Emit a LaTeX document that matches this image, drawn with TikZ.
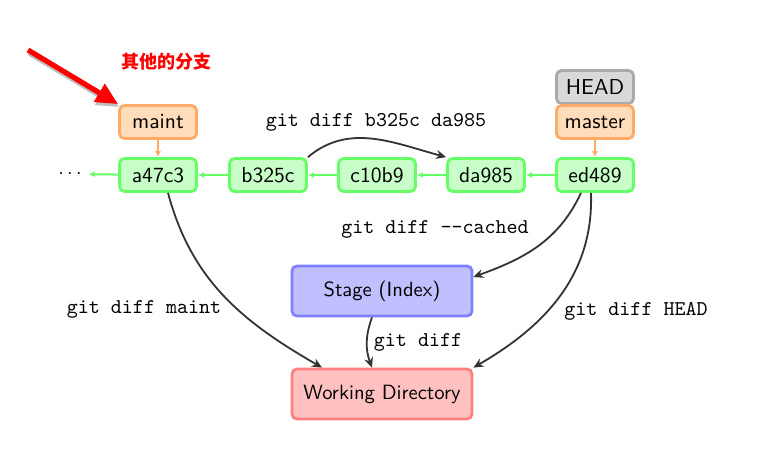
\documentclass[tikz,border=0pt]{standalone}
\usepackage{fontspec}
\newfontfamily\cjk{Noto Sans CJK SC}
\usetikzlibrary{arrows.meta,shapes}
\definecolor{commitline}{HTML}{66FF66}
\definecolor{commitfill}{HTML}{C8FFC8}
\definecolor{branchline}{HTML}{FFAA66}
\definecolor{branchfill}{HTML}{FFDDBB}
\definecolor{headline}{HTML}{AAAAAA}
\definecolor{headfill}{HTML}{D9D9D9}
\definecolor{stageline}{HTML}{8080FF}
\definecolor{stagefill}{HTML}{C0C0FF}
\definecolor{workline}{HTML}{FF8080}
\definecolor{workfill}{HTML}{FFC0C0}
\definecolor{diffline}{HTML}{333333}
\tikzset{
  box/.style={line width=1.4pt, rounded corners=2.5pt, font=\sffamily\fontsize{10.8}{13}\selectfont, inner sep=2pt},
  commit/.style={box, draw=commitline, fill=commitfill, minimum width=38.5pt, minimum height=16.5pt},
  branch/.style={box, draw=branchline, fill=branchfill, minimum width=38.5pt, minimum height=16.5pt},
  area/.style={box, font=\sffamily\fontsize{10.3}{12}\selectfont, minimum width=90pt, minimum height=25pt},
  parent/.style={-{Latex[length=3pt,width=3pt]}, commitline, line width=1pt},
  points/.style={-{Latex[length=3pt,width=3pt]}, branchline, line width=0.8pt},
  diff/.style={-{Stealth[length=5pt,width=4.5pt]}, diffline, line width=0.9pt},
  cmd/.style={font=\ttfamily\fontsize{10.5}{12}\selectfont}
}
\begin{document}
\begin{tikzpicture}[x=0.5pt, y=-0.5pt]
                \useasboundingbox (0,0) rectangle (771,470);
                % commits
                \node[commit] (a47c3) at (158,175) {a47c3};
                \node[commit] (b325c) at (268,175) {b325c};
                \node[commit] (c10b9) at (377,175) {c10b9};
                \node[commit] (da985) at (486,175) {da985};
                \node[commit] (ed489) at (595,175) {ed489};
                \node (dots) at (70,174) {$\cdots$};
                % branches
                \node[box, draw=headline, fill=headfill, minimum width=38.5pt, minimum height=16.5pt] (HEAD) at (595,87) {HEAD};
                \node[branch] (maint) at (158,122) {maint};
                \node[branch] (master) at (595,122) {master};
                % stage and working directory
                \node[area, draw=stageline, fill=stagefill] (stage) at (382,291) {Stage (Index)};
                \node[area, draw=workline, fill=workfill] (work) at (382,394) {Working Directory};
                \draw[parent] (ed489) -- (da985);
                \draw[parent] (da985) -- (c10b9);
                \draw[parent] (c10b9) -- (b325c);
                \draw[parent] (b325c) -- (a47c3);
                \draw[parent] (a47c3) -- (dots);
                \draw[points] (maint) -- (a47c3);
                \draw[points] (master) -- (ed489);
                % diffs
                \draw[diff] (b325c.north east) to[out=40, in=165] (da985.north west);
                \draw[diff] ([xshift=-7pt]ed489.south) to[out=-115, in=20] ([yshift=7pt]stage.east);
                \draw[diff] ([xshift=-2pt]ed489.south) to[out=-88, in=30] (work.north east);
                \draw[diff] ([xshift=5pt]a47c3.south) to[out=-75, in=150] ([xshift=-30pt]work.north);
                \draw[diff] ([xshift=-5pt]stage.south) to[bend right=20] ([xshift=-5pt]work.north);
                \node[cmd] (diffcommits) at (376,122) {git diff b325c da985};
                \node[cmd] (diffcached) at (435,229) {git diff -{}-cached};
                \node[cmd] (diffmaint) at (144,309) {git diff maint};
                \node[cmd] (diffhead) at (636,311) {git diff HEAD};
                \node[cmd] (diffwork) at (418,342) {git diff};
                % note
                \node[font=\cjk\bfseries\fontsize{9}{10}\selectfont, text=red] (other) at (166,62) {其他的分支};
                \coordinate (tail) at (28,50);
                \draw[-{Triangle[length=11pt,width=10pt]}, line width=2.6pt, black!25] ([shift={(1,3)}]tail) -- ([shift={(1,3)}]maint.north west);
                \draw[-{Triangle[length=11pt,width=10pt]}, line width=2.6pt, red] (tail) -- (maint.north west);
\end{tikzpicture}
\end{document}
